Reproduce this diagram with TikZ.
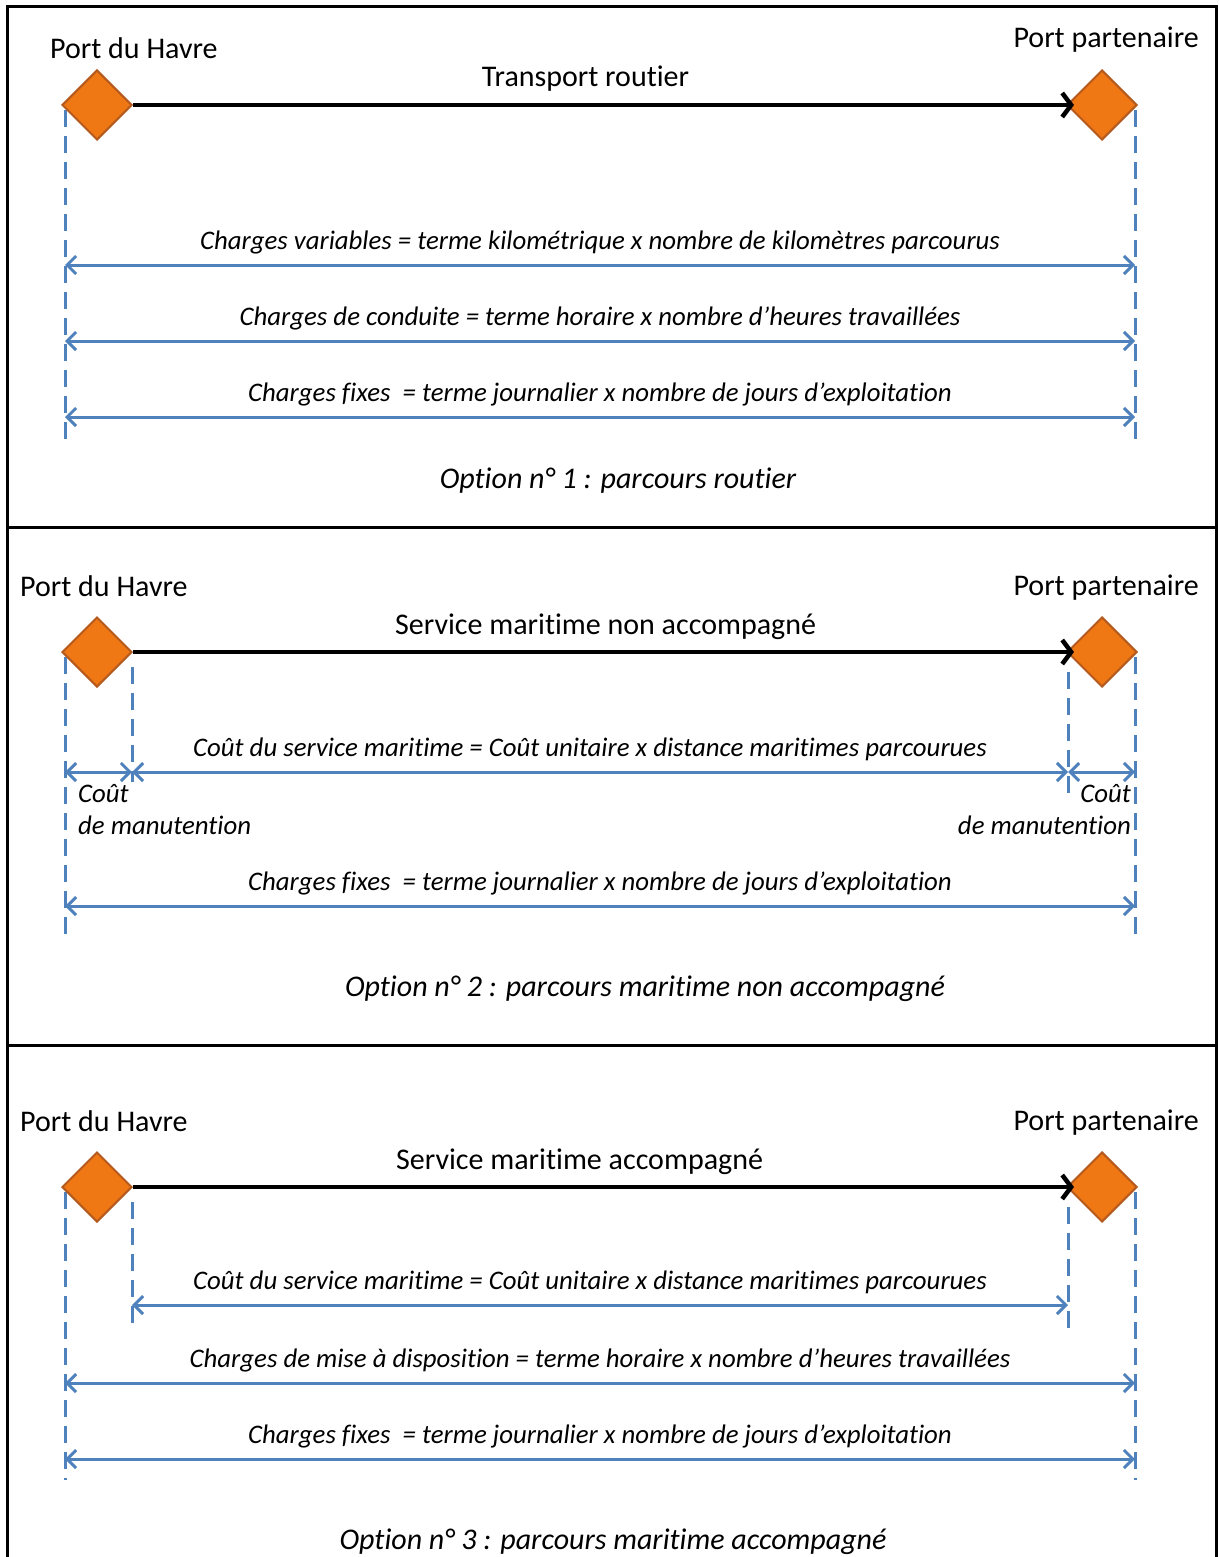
\documentclass[tikz,border=0pt]{standalone}
\usepackage{fontspec}
\setmainfont{Carlito}[Ligatures=NoCommon,Contextuals=NoAlternate,RawFeature=-clig]
\usepackage{xcolor}
\usetikzlibrary{arrows.meta,positioning,calc,shapes.geometric}
\definecolor{portcol}{RGB}{240,120,20}
\definecolor{portline}{RGB}{180,90,30}
\definecolor{costcol}{RGB}{79,129,189}

\begin{document}
\begin{tikzpicture}[x=1pt,y=-1pt,
  port/.style={diamond,draw=portline,fill=portcol,line width=2pt,minimum width=70pt,minimum height=70pt,inner sep=0pt},
  portname/.style={font=\fontsize{30}{36}\selectfont,inner sep=0pt},
  title/.style={font=\fontsize{30}{36}\selectfont,inner sep=0pt,anchor=base,yshift=18pt},
  cost/.style={text=black,font=\fontsize{26.8}{32}\selectfont\itshape,inner sep=0pt,anchor=base,yshift=16pt},
  handling/.style={font=\fontsize{26.8}{32}\selectfont\itshape,inner sep=0pt},
  option/.style={font=\fontsize{30}{36}\selectfont\itshape,inner sep=0pt,anchor=base},
  route/.style={line width=4.5pt,shorten >=-8pt,-{Straight Barb[length=9pt,width=24pt]}},
  dim/.style={costcol,line width=3pt,{Straight Barb[length=9pt,width=18pt]}-{Straight Barb[length=9pt,width=18pt]}},
  guide/.style={costcol,line width=3pt,dash pattern=on 17pt off 9pt},
  frame/.style={line width=3pt}]
\useasboundingbox (0,0) rectangle (1218,1557);
\draw[frame] (7,1557) -- (7,7) -- (1216,7) -- (1216,1557);
\draw[frame] (7,527) -- (1216,527);
\draw[frame] (7,1045) -- (1216,1045);

% option 1
\coordinate (l1top) at (65,110); \coordinate (l1bot) at (65,445);
\coordinate (r1top) at (1135,110); \coordinate (r1bot) at (1135,445);
\draw[guide] (l1top) -- (l1bot);
\draw[guide] (r1top) -- (r1bot);
\node[port] (hav1) at (97,105) {};
\node[port] (par1) at (1102,105) {};
\node[portname, anchor=base west] (hav1txt) at (50,59) {Port du Havre};
\node[portname, anchor=base east] (par1txt) at (1199,48) {Port partenaire};
\draw[route] (hav1.east) -- node[title, xshift=-14pt] (tr1) {Transport routier} (par1.west);
\coordinate (l1a) at (65,265); \coordinate (r1a) at (1135,265);
\coordinate (l1b) at (65,341); \coordinate (r1b) at (1135,341);
\coordinate (l1c) at (65,417); \coordinate (r1c) at (1135,417);
\draw[dim] (l1a) -- node[cost] (cv1) {Charges variables = terme kilométrique x nombre de kilomètres parcourus} (r1a);
\draw[dim] (l1b) -- node[cost] (cc1) {Charges de conduite = terme horaire x nombre d’heures travaillées} (r1b);
\draw[dim] (l1c) -- node[cost] (cf1) {Charges fixes~ = terme journalier x nombre de jours d’exploitation} (r1c);
\node[option] (opt1) at (618,488) {Option n° 1 : parcours routier};

% option 2
\coordinate (l2top) at (65,657); \coordinate (l2bot) at (65,935);
\coordinate (r2top) at (1135,657); \coordinate (r2bot) at (1135,935);
\coordinate (li2top) at (132,667); \coordinate (li2bot) at (132,782);
\coordinate (ri2top) at (1068,672); \coordinate (ri2bot) at (1068,796);
\draw[guide] (l2top) -- (l2bot);
\draw[guide] (r2top) -- (r2bot);
\draw[guide] (li2top) -- (li2bot);
\draw[guide] (ri2top) -- (ri2bot);
\node[port] (hav2) at (97,652) {};
\node[port] (par2) at (1102,652) {};
\node[portname, anchor=base west] (hav2txt) at (20,596) {Port du Havre};
\node[portname, anchor=base east] (par2txt) at (1199,595) {Port partenaire};
\draw[route] (hav2.east) -- node[title, xshift=6pt] (tr2) {Service maritime non accompagné} (par2.west);
\coordinate (l2a) at (65,772); \coordinate (li2a) at (132,772);
\coordinate (ri2a) at (1068,772); \coordinate (r2a) at (1135,772);
\coordinate (l2b) at (65,906); \coordinate (r2b) at (1135,906);
\draw[dim] (l2a) -- (li2a);
\draw[dim] (li2a) -- node[cost, xshift=-10pt] (cs2) {Coût du service maritime = Coût unitaire x distance maritimes parcourues} (ri2a);
\draw[dim] (ri2a) -- (r2a);
\node[handling, anchor=north west, align=left] (mh2l) at (78,784) {Coût\\de manutention};
\node[handling, anchor=north east, align=right] (mh2r) at (1131,784) {Coût\\de manutention};
\draw[dim] (l2b) -- node[cost] (cf2) {Charges fixes~ = terme journalier x nombre de jours d’exploitation} (r2b);
\node[option] (opt2) at (645,996) {Option n° 2 : parcours maritime non accompagné};

% option 3
\coordinate (l3top) at (65,1192); \coordinate (l3bot) at (65,1480);
\coordinate (r3top) at (1135,1192); \coordinate (r3bot) at (1135,1480);
\coordinate (li3top) at (132,1202); \coordinate (li3bot) at (132,1324);
\coordinate (ri3top) at (1068,1207); \coordinate (ri3bot) at (1068,1333);
\draw[guide] (l3top) -- (l3bot);
\draw[guide] (r3top) -- (r3bot);
\draw[guide] (li3top) -- (li3bot);
\draw[guide] (ri3top) -- (ri3bot);
\node[port] (hav3) at (97,1187) {};
\node[port] (par3) at (1102,1187) {};
\node[portname, anchor=base west] (hav3txt) at (20,1131) {Port du Havre};
\node[portname, anchor=base east] (par3txt) at (1199,1130) {Port partenaire};
\draw[route] (hav3.east) -- node[title, xshift=-20pt] (tr3) {Service maritime accompagné} (par3.west);
\coordinate (li3a) at (132,1305); \coordinate (ri3a) at (1068,1305);
\coordinate (l3b) at (65,1383); \coordinate (r3b) at (1135,1383);
\coordinate (l3c) at (65,1459); \coordinate (r3c) at (1135,1459);
\draw[dim] (li3a) -- node[cost, xshift=-10pt] (cs3) {Coût du service maritime = Coût unitaire x distance maritimes parcourues} (ri3a);
\draw[dim] (l3b) -- node[cost] (cm3) {Charges de mise à disposition = terme horaire x nombre d’heures travaillées} (r3b);
\draw[dim] (l3c) -- node[cost] (cf3) {Charges fixes~ = terme journalier x nombre de jours d’exploitation} (r3c);
\node[option] (opt3) at (613,1549) {Option n° 3 : parcours maritime accompagné};
\end{tikzpicture}
\end{document}
